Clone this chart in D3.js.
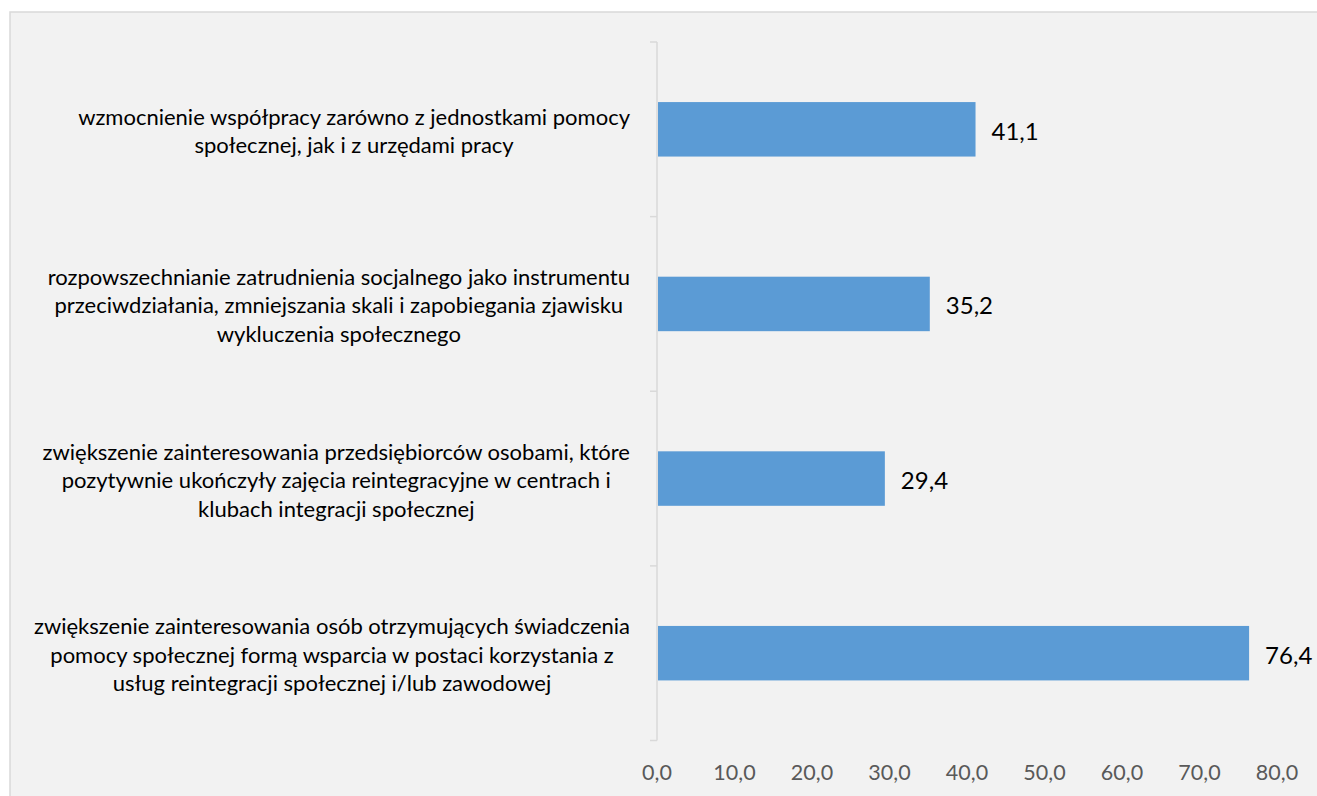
<!DOCTYPE html>
<html><head><meta charset="utf-8">
<script src="https://cdn.jsdelivr.net/npm/d3@7"></script>
<style>html,body{margin:0;padding:0;background:#fff;}svg{display:block;}</style>
</head><body>
<svg id="chart" width="1317" height="796"></svg>
<script>
const categories = [
  ["wzmocnienie współpracy zarówno z jednostkami pomocy", "społecznej, jak i z urzędami pracy"],
  ["rozpowszechnianie zatrudnienia socjalnego jako instrumentu", "przeciwdziałania, zmniejszania skali i zapobiegania zjawisku", "wykluczenia społecznego"],
  ["zwiększenie zainteresowania przedsiębiorców osobami, które", "pozytywnie ukończyły zajęcia reintegracyjne w centrach i", "klubach integracji społecznej"],
  ["zwiększenie zainteresowania osób otrzymujących świadczenia", "pomocy społecznej formą wsparcia w postaci korzystania z", "usług reintegracji społecznej i/lub zawodowej"]
];
const values = [41.1, 35.2, 29.4, 76.4];
const tickValues = [0, 10, 20, 30, 40, 50, 60, 70, 80];
const fmt = v => v.toFixed(1).replace(".", ",");

const svg = d3.select("#chart");
const FONT = "Lato, 'Open Sans', sans-serif";

svg.append("rect").attr("x", 10).attr("y", 12).attr("width", 1330).attr("height", 800)
  .attr("fill", "#f2f2f2").attr("stroke", "#d9d9d9").attr("stroke-width", 1.5);

const ids = categories.map((c, i) => i);
const y = d3.scaleBand().domain(ids).range([42, 740.5]).paddingInner(0.688).paddingOuter(0.344);
const yEdge = d3.scaleBand().domain(ids).range([42, 740.5]).padding(0);
const x = d3.scaleLinear().domain([0, 80]).range([657, 1277]);

// axis line & ticks
const g = svg.append("g");
g.append("line").attr("x1", x(0)).attr("x2", x(0)).attr("y1", 42).attr("y2", 740.5)
  .attr("stroke", "#d9d9d9").attr("stroke-width", 1.5);
const edges = ids.map(i => yEdge(i)).concat([yEdge(ids[ids.length-1]) + yEdge.bandwidth()]);
g.selectAll("line.tick").data(edges).join("line").attr("class", "tick")
  .attr("x1", x(0) - 7).attr("x2", x(0)).attr("y1", d => d).attr("y2", d => d)
  .attr("stroke", "#d9d9d9").attr("stroke-width", 1.5);

// x tick labels
svg.append("g").selectAll("text").data(tickValues).join("text")
  .attr("x", d => x(d)).attr("y", 772).attr("text-anchor", "middle").attr("dominant-baseline", "central")
  .attr("font-family", FONT).attr("font-size", 21.5).attr("fill", "#595959").text(fmt);

// bars
svg.append("g").selectAll("rect").data(values).join("rect")
  .attr("x", x(0) + 1).attr("y", (d, i) => y(i)).attr("width", d => x(d) - x(0) - 1)
  .attr("height", y.bandwidth()).attr("fill", "#5b9bd5");

// value labels
svg.append("g").selectAll("text").data(values).join("text")
  .attr("x", d => x(d) + 16).attr("y", (d, i) => y(i) + y.bandwidth() / 2 + 1)
  .attr("dominant-baseline", "central").attr("font-family", FONT).attr("font-size", 24)
  .attr("fill", "#000").text(fmt);

// category labels
const labelRight = 630, lineH = 28.5;
categories.forEach((lines, i) => {
  const cy = yEdge(i) + yEdge.bandwidth() / 2 + 1;
  const tg = svg.append("g");
  const texts = tg.selectAll("text").data(lines).join("text")
    .attr("y", (d, k) => cy + (k - (lines.length - 1) / 2) * lineH)
    .attr("dominant-baseline", "central").attr("text-anchor", "middle")
    .attr("font-family", FONT).attr("font-size", 22).attr("fill", "#000").text(d => d);
  let maxW = 0;
  texts.each(function() { maxW = Math.max(maxW, this.getComputedTextLength()); });
  texts.attr("x", labelRight - maxW / 2);
});
</script>
</body></html>
